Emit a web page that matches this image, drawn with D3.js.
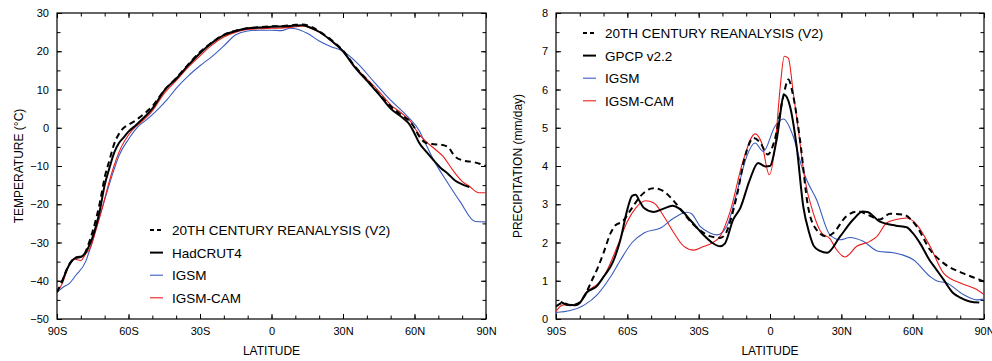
<!DOCTYPE html>
<html><head><meta charset="utf-8">
<script src="https://cdn.jsdelivr.net/npm/d3@7"></script>
<style>body{margin:0;background:#fff}svg{display:block;font-family:"Liberation Sans",Arial,Helvetica,sans-serif}</style>
</head><body>
<script>
// ---------- DATA ----------
const latTicks = [-90,-60,-30,0,30,60,90];
const latTickLabels = ["90S","60S","30S","0","30N","60N","90N"];
const tempTicks = [-50,-40,-30,-20,-10,0,10,20,30];
const precipTicks = [0,1,2,3,4,5,6,7,8];

// Temperature (°C)
const tReanLat = [-90,-88,-85,-82,-79,-77,-75,-72,-70,-68,-66,-64,-62,-60,-57,-55,-50,-45,-40,-35,-30,-25,-20,-15,-10,-5,0,5,10,13,17,20,25,30,35,40,45,50,55,58,60,62,65,68,71,74,77,80,85,90];
const tRean    = [-43,-40.3,-35.8,-33.9,-33.5,-30.8,-27,-19.5,-13,-8.5,-4.2,-1.6,0,0.8,1.9,2.9,5.6,9.8,13,16.5,19.8,22.3,24.3,25.4,26,26.3,26.5,26.6,26.9,27,26.3,25.2,23,20.2,16,12.6,8.9,5.6,3.1,1.7,0,-2.3,-4,-4.3,-4.4,-5,-7.5,-8.5,-9,-10];

const tHadLat = [-88,-85,-82,-80,-77,-75,-72,-70,-68,-66,-64,-62,-60,-57,-55,-50,-45,-40,-35,-30,-25,-20,-15,-10,-5,0,5,10,13,17,20,25,30,35,40,45,50,55,58,60,62,65,68,71,74,77,80,83];
const tHad    = [-40.5,-36,-34,-33.8,-31.5,-28.5,-21.5,-15,-10.5,-6.5,-4,-2.5,-1,0.6,1.8,5,9.7,12.8,16.3,19.5,22.2,24.2,25.3,26,26.2,26.4,26.5,26.7,26.8,26,25.1,22.8,20,15.8,12.3,8.8,5,2.6,0.8,-1.5,-4,-6.3,-8.5,-10.5,-12,-13.8,-14.8,-15.5];

const tCamLat = [-90,-88,-85,-83,-80,-78,-76,-74,-71,-68.5,-66,-63,-60,-57,-55,-50,-45,-40,-35,-30,-25,-20,-15,-10,-5,0,5,10,13,17,20,25,30,35,40,45,50,55,58,62,65,68,72,76,80,83,87,90];
const tCam    = [-43,-41,-36,-34.3,-34.7,-33,-31.4,-27.5,-21,-15,-9.8,-5,-1.9,0.3,1.3,4.4,9,12.3,15.8,18.8,21.6,23.7,25,25.7,25.9,26,26.1,26.4,26.6,25.9,25,22.8,20,16,12.8,9.6,6,3.6,1.9,-1.8,-3.7,-5.3,-7.5,-11,-14,-15.3,-17,-17];

const tIgsmLat = [-90,-87,-85,-82,-78,-76,-73,-70,-67,-64,-60,-56,-52,-48,-44,-40,-35,-30,-25,-20,-15,-10,-5,0,4,8,10,15,20,25,30,36,43,50,57,62,64.5,68,73.5,79,85.5,90];
const tIgsm    = [-43,-41.5,-40.8,-38.5,-35,-31.4,-25,-18.8,-12.7,-7.3,-3,0.3,2.3,4.6,7.2,10.3,13.5,16.2,18.6,21.4,24.3,25.3,25.5,25.5,25.4,26,25.9,24.7,22.7,21.2,20,16.9,12,7.2,3,-0.8,-4,-8.4,-14,-19.2,-24.5,-24.6];

// Precipitation (mm/day)
const pReanLat = [-90,-87,-84,-81,-78,-75,-72.5,-70,-67,-65,-62,-58.5,-54.5,-49,-45,-40,-37.5,-33.5,-29,-25,-21,-19,-14,-10.5,-7,-4,-1,2,5.6,7.7,9.8,12.6,16,19.6,23.8,26.6,32,37,42,46,50.5,56,61.7,67.3,73,81,88,90];
const pRean    = [0.33,0.42,0.36,0.4,0.6,1.0,1.33,1.73,2.25,2.45,2.55,2.86,3.21,3.42,3.35,3.05,2.86,2.55,2.3,2.16,2.12,2.2,3.21,4.25,4.73,4.6,4.3,4.69,5.82,6.26,5.82,4.69,2.94,2.33,2.16,2.25,2.68,2.81,2.7,2.6,2.75,2.73,2.42,1.81,1.46,1.2,1.03,0.98];

const pGpcpLat = [-88,-85,-82,-80,-77,-73,-70,-66,-63,-60,-58,-56.5,-55,-53,-49,-45,-41,-38,-33,-28,-24,-21,-19,-15.5,-12.5,-8.5,-5,-2,0,2.8,6,8.4,11.2,14,16.5,18.5,21,24,29.5,35,39,41,46,53,57.5,60,63,67,70,73,77,80,84,88];
const pGpcp    = [0.45,0.37,0.36,0.42,0.7,0.85,1.1,1.5,2.05,2.86,3.22,3.25,3.1,2.9,2.8,2.88,2.96,2.88,2.55,2.2,1.98,1.9,1.97,2.6,2.9,3.64,4.08,3.99,4.0,4.69,5.86,5.56,4.51,2.94,2.25,1.9,1.78,1.73,2.16,2.6,2.81,2.8,2.55,2.44,2.4,2.25,1.99,1.55,1.29,1.03,0.68,0.56,0.46,0.43];

const pIgsmLat = [-90,-84,-78,-72.6,-67,-62.8,-58,-53,-46,-40.4,-35,-33,-29.4,-25.2,-22.4,-18.2,-14,-9.8,-6.3,-2.8,2.1,5.6,9.8,13.3,15.4,19.6,25.2,29.4,33.6,39.2,45.5,51.9,56,60.3,67.3,70,74.3,81.3,86.9,90];
const pIgsm    = [0.17,0.22,0.37,0.64,1.11,1.55,2.0,2.25,2.38,2.64,2.79,2.75,2.42,2.25,2.2,2.42,3.29,4.25,4.6,4.38,5.04,5.23,4.77,3.99,3.64,3.12,2.2,2.07,2.13,2.03,1.77,1.73,1.67,1.55,1.11,1.0,0.94,0.64,0.5,0.52];

const pCamLat = [-90,-87,-81,-77.5,-74,-72,-68.4,-64.2,-60,-56.5,-52.3,-48.8,-44.6,-40.4,-36.2,-32,-28.5,-24,-21,-16.8,-11.2,-6.3,-3.5,-0.3,2.1,4.2,6,7.7,9.8,11.9,14.7,18.2,21.7,25.2,28,31.5,36.5,42,45,49,53,57.5,61.7,67.3,73,80,87,90];
const pCam    = [0.2,0.37,0.37,0.68,0.85,0.94,1.29,1.9,2.55,2.9,3.09,3.03,2.68,2.25,1.9,1.8,1.88,2.0,2.16,2.8,4.16,4.84,4.6,3.77,4.51,6.0,6.87,6.82,5.91,4.95,3.64,2.77,2.25,2.1,1.81,1.62,1.9,2.03,2.16,2.51,2.6,2.64,2.47,1.9,1.2,0.94,0.77,0.64];

const legendLeft = ["20TH CENTURY REANALYSIS (V2)","HadCRUT4","IGSM","IGSM-CAM"];
const legendRight = ["20TH CENTURY REANALYSIS (V2)","GPCP v2.2","IGSM","IGSM-CAM"];

// ---------- DRAW ----------
const W = 992, H = 361;
const svg = d3.select("body").append("svg").attr("width", W).attr("height", H);
const BLUE = "#3a5cc0", RED = "#ee1c1c";
const styles = [
  {stroke:"#000", width:2, dash:"6,4"},
  {stroke:"#000", width:2, dash:null},
  {stroke:BLUE, width:1.1, dash:null},
  {stroke:RED, width:1.1, dash:null}
];

function latLabel(v){ const i = latTicks.indexOf(v); return i>=0 ? latTickLabels[i] : ""; }
function range(a,b,s){ const r=[]; for(let v=a; v<=b+1e-9; v+=s) r.push(+v.toFixed(4)); return r; }

function panel(opts){
  const {x0,x1,y0,y1,yDomain,yTicks,yMinorStep,yLabel,series,legend,legX,legY,legDy} = opts;
  const g = svg.append("g");
  const x = d3.scaleLinear().domain([-90,90]).range([x0,x1]);
  const y = d3.scaleLinear().domain(yDomain).range([y1,y0]);
  const xMinor = range(-90,90,10);
  const yMinor = range(yDomain[0],yDomain[1],yMinorStep);
  const fs = "11px";
  // major axes
  const ax = [
    {a:d3.axisBottom(x).tickValues(latTicks).tickFormat(latLabel), t:`translate(0,${y1})`, lab:true},
    {a:d3.axisTop(x).tickValues(latTicks).tickFormat(""), t:`translate(0,${y0})`},
    {a:d3.axisLeft(y).tickValues(yTicks).tickFormat(d3.format("d")), t:`translate(${x0},0)`, lab:true},
    {a:d3.axisRight(y).tickValues(yTicks).tickFormat(""), t:`translate(${x1},0)`}
  ];
  ax.forEach(o=>{
    const gg = g.append("g").attr("transform",o.t).call(o.a.tickSize(-5).tickPadding(8));
    gg.select(".domain").remove();
    gg.selectAll("line").attr("stroke","#000").attr("stroke-width",1);
    gg.selectAll("text").attr("font-size",fs).attr("fill","#000").style("font-family",'"Liberation Sans",Arial,sans-serif');
  });
  const mi = [
    {a:d3.axisBottom(x).tickValues(xMinor), t:`translate(0,${y1})`},
    {a:d3.axisTop(x).tickValues(xMinor), t:`translate(0,${y0})`},
    {a:d3.axisLeft(y).tickValues(yMinor), t:`translate(${x0},0)`},
    {a:d3.axisRight(y).tickValues(yMinor), t:`translate(${x1},0)`}
  ];
  mi.forEach(o=>{
    const gg = g.append("g").attr("transform",o.t).call(o.a.tickSize(-3.5).tickFormat(""));
    gg.select(".domain").remove();
    gg.selectAll("line").attr("stroke","#000").attr("stroke-width",1);
  });
  // frame
  g.append("rect").attr("x",x0).attr("y",y0).attr("width",x1-x0).attr("height",y1-y0)
    .attr("fill","none").attr("stroke","#000").attr("stroke-width",1.2);
  // clip
  const cid = "clip"+x0;
  svg.append("clipPath").attr("id",cid).append("rect").attr("x",x0).attr("y",y0).attr("width",x1-x0).attr("height",y1-y0);
  const line = d3.line().x(d=>x(d[0])).y(d=>y(d[1])).curve(d3.curveMonotoneX);
  // draw in order: blue, red, black solid, dashed
  [2,3,1,0].forEach(i=>{
    const s = series[i], st = styles[i];
    const pts = s.lat.map((l,k)=>[l,s.val[k]]);
    g.append("path").attr("d",line(pts)).attr("fill","none").attr("stroke",st.stroke)
      .attr("stroke-width",st.width).attr("stroke-dasharray",st.dash).attr("stroke-linejoin","round")
      .attr("clip-path",`url(#${cid})`);
  });
  // axis titles
  g.append("text").attr("x",(x0+x1)/2).attr("y",355).attr("text-anchor","middle")
    .attr("font-size","12px").text("LATITUDE");
  g.append("text").attr("transform",`translate(${x0-34},${(y0+y1)/2}) rotate(-90)`)
    .attr("text-anchor","middle").attr("font-size","12px").text(yLabel);
  // legend
  legend.forEach((t,i)=>{
    const cy = legY + i*legDy, st = styles[i];
    g.append("line").attr("x1",legX).attr("x2",legX+13).attr("y1",cy).attr("y2",cy)
      .attr("stroke",st.stroke).attr("stroke-width",st.width).attr("stroke-dasharray",st.dash?"4,3":null);
    g.append("text").attr("x",legX+22).attr("y",cy+5).attr("font-size","13.5px").text(t);
  });
}

panel({x0:57,x1:486,y0:13,y1:319,yDomain:[-50,30],yTicks:tempTicks,yMinorStep:5,
  yLabel:"TEMPERATURE (\u00B0C)",
  series:[{lat:tReanLat,val:tRean},{lat:tHadLat,val:tHad},{lat:tIgsmLat,val:tIgsm},{lat:tCamLat,val:tCam}],
  legend:legendLeft,legX:150,legY:230,legDy:22.6});

panel({x0:556,x1:984,y0:13,y1:319,yDomain:[0,8],yTicks:precipTicks,yMinorStep:0.5,
  yLabel:"PRECIPITATION (mm/day)",
  series:[{lat:pReanLat,val:pRean},{lat:pGpcpLat,val:pGpcp},{lat:pIgsmLat,val:pIgsm},{lat:pCamLat,val:pCam}],
  legend:legendRight,legX:583,legY:33,legDy:22.6});
</script>
</body></html>
